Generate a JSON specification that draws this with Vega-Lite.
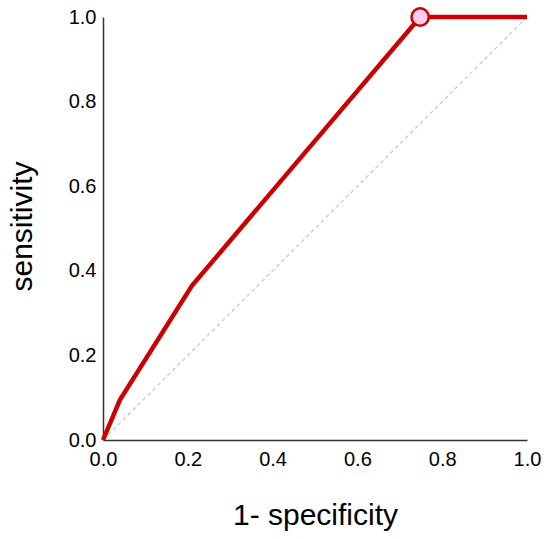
{
  "$schema": "https://vega.github.io/schema/vega-lite/v6.json",
  "autosize": "none",
  "width": 424,
  "height": 423,
  "padding": {"left": 103, "top": 17, "right": 23, "bottom": 99},
  "background": "white",
  "config": {
    "view": {"stroke": null},
    "font": "Liberation Sans",
    "axis": {
      "grid": false,
      "ticks": false,
      "labelFlush": false,
      "domainColor": "#333333",
      "domainWidth": 1.5,
      "labelFont": "Liberation Sans",
      "labelFontSize": 20,
      "labelColor": "#000000",
      "titleFont": "Liberation Sans",
      "titleFontSize": 30,
      "titleFontWeight": "normal",
      "titleColor": "#000000"
    }
  },
  "datasets": {
    "roc": [
      {"fpr": 0.0, "tpr": 0.0},
      {"fpr": 0.04, "tpr": 0.095},
      {"fpr": 0.21, "tpr": 0.365},
      {"fpr": 0.748, "tpr": 1.0},
      {"fpr": 1.0, "tpr": 1.0}
    ],
    "diag": [
      {"fpr": 0.0, "tpr": 0.0},
      {"fpr": 1.0, "tpr": 1.0}
    ],
    "cut": [
      {"fpr": 0.748, "tpr": 1.0}
    ]
  },
  "layer": [
    {
      "data": {"name": "diag"},
      "mark": {"type": "line", "color": "#c8c8c8", "strokeWidth": 1.2, "strokeDash": [4, 3]},
      "encoding": {
        "x": {
          "field": "fpr",
          "type": "quantitative",
          "scale": {"domain": [0, 1], "nice": false},
          "axis": {
            "values": [0, 0.2, 0.4, 0.6, 0.8, 1.0],
            "format": ".1f",
            "labelPadding": 9,
            "title": "1- specificity",
            "titleY": 84,
            "titleBaseline": "alphabetic"
          }
        },
        "y": {
          "field": "tpr",
          "type": "quantitative",
          "scale": {"domain": [0, 1], "nice": false},
          "axis": {
            "values": [0, 0.2, 0.4, 0.6, 0.8, 1.0],
            "format": ".1f",
            "labelPadding": 7,
            "title": "sensitivity",
            "titleX": -81,
            "titleY": 209,
            "titleBaseline": "middle"
          }
        }
      }
    },
    {
      "data": {"name": "roc"},
      "mark": {"type": "line", "color": "#cc0000", "strokeWidth": 4.5, "strokeJoin": "miter"},
      "encoding": {
        "x": {"field": "fpr", "type": "quantitative"},
        "y": {"field": "tpr", "type": "quantitative"}
      }
    },
    {
      "data": {"name": "cut"},
      "mark": {"type": "point", "filled": true, "fill": "#ffccee", "stroke": "#cc0000", "strokeWidth": 2.5, "size": 300, "opacity": 1},
      "encoding": {
        "x": {"field": "fpr", "type": "quantitative"},
        "y": {"field": "tpr", "type": "quantitative"}
      }
    }
  ]
}
